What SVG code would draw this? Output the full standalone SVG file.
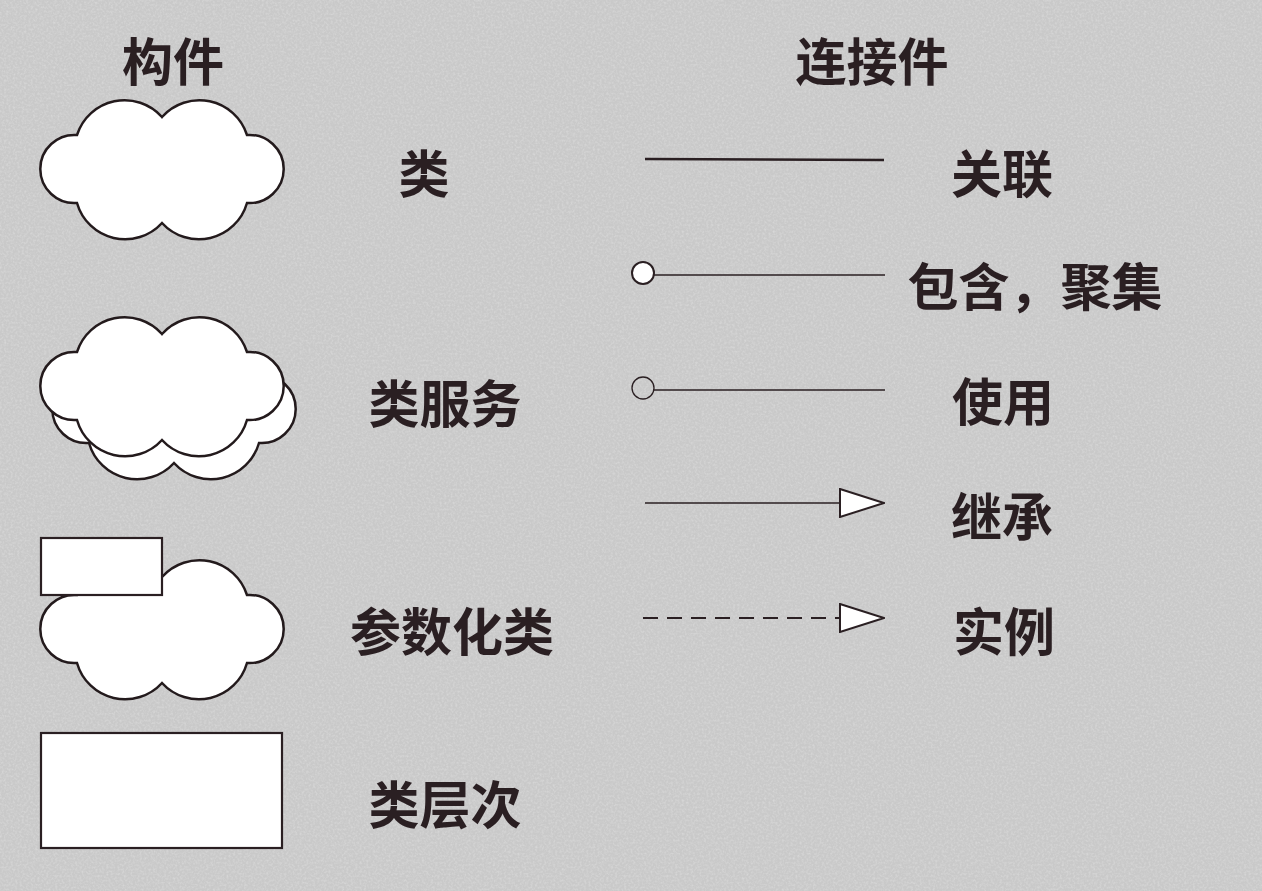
<svg xmlns="http://www.w3.org/2000/svg" width="1262" height="891" viewBox="0 0 1262 891">
<defs>
<filter id="tex" x="0" y="0" width="100%" height="100%">
<feTurbulence type="fractalNoise" baseFrequency="0.45" numOctaves="2" seed="3" result="n"/>
<feColorMatrix in="n" type="matrix" values="0 0 0 0 1  0 0 0 0 1  0 0 0 0 1  0 0 0 -1.4 0.85" result="w"/>
<feComposite in="w" in2="SourceGraphic" operator="in"/>
</filter>
<path id="cloud" d="M77,135 A50,50 0 0,1 162,117 A50,50 0 0,1 247,135 A34.1,34.1 0 1,1 247,203 A50,50 0 0,1 162,223 A50,50 0 0,1 77,203 A34.1,34.1 0 1,1 77,135 Z"/>
<marker id="tri" viewBox="0 0 46 30" refX="1" refY="15" markerWidth="46" markerHeight="30" markerUnits="userSpaceOnUse" orient="auto">
<path d="M1,1 L45,15 L1,29 Z" fill="#ffffff" stroke="#2a1f22" stroke-width="2"/>
</marker>
</defs>
<style>
.shape{fill:#ffffff;stroke:#231a1c;stroke-width:2.5}
.box{fill:#ffffff;stroke:#2a1f22;stroke-width:2.2}
.lbl{font-family:"Noto Sans CJK SC","Noto Sans CJK JP",sans-serif;font-weight:700;font-size:51px;fill:#2a1f22;text-anchor:middle}
.ln{stroke:#2a1f22;fill:none}
</style>
<rect width="1262" height="891" fill="#c9c9c9"/>
<rect width="1262" height="891" fill="#c9c9c9" filter="url(#tex)" opacity="0.35"/>

<g id="heading-components"><text class="lbl" x="173" y="81">构件</text></g>
<g id="heading-connectors"><text class="lbl" x="872" y="81">连接件</text></g>

<g id="node-class">
<use href="#cloud" class="shape"/>
<text class="lbl" x="424" y="193">类</text>
</g>

<g id="node-class-service">
<use href="#cloud" class="shape" transform="translate(12,240)"/>
<use href="#cloud" class="shape" transform="translate(0,217)"/>
<text class="lbl" x="445" y="423">类服务</text>
</g>

<g id="node-param-class">
<use href="#cloud" class="shape" transform="translate(0,460)"/>
<rect class="box" x="41" y="538" width="121" height="57"/>
<text class="lbl" x="452" y="651">参数化类</text>
</g>

<g id="node-class-hierarchy">
<rect class="box" x="41" y="733" width="241" height="115" stroke-width="2.5"/>
<text class="lbl" x="445" y="824">类层次</text>
</g>

<g id="connectors">
<line class="ln" x1="645" y1="159" x2="884" y2="160" stroke-width="2.6"/>
<line class="ln" x1="654" y1="275" x2="885" y2="275" stroke-width="1.3"/>
<circle cx="643" cy="273" r="11" fill="#ffffff" stroke="#2a1f22" stroke-width="2"/>
<line class="ln" x1="654" y1="390" x2="885" y2="390" stroke-width="1.3"/>
<circle cx="643" cy="388" r="11" fill="none" stroke="#2a1f22" stroke-width="1.3"/>
<line class="ln" x1="645" y1="503" x2="840" y2="503" stroke-width="1.3" marker-end="url(#tri)"/>
<line class="ln" x1="643" y1="618" x2="840" y2="618" stroke-width="1.8" stroke-dasharray="15 9" marker-end="url(#tri)"/>
</g>

<g id="connector-labels">
<text class="lbl" x="1002" y="193">关联</text>
<text class="lbl" x="1035" y="306">包含，聚集</text>
<text class="lbl" x="1003" y="421">使用</text>
<text class="lbl" x="1002" y="536">继承</text>
<text class="lbl" x="1004" y="651">实例</text>
</g>
</svg>
